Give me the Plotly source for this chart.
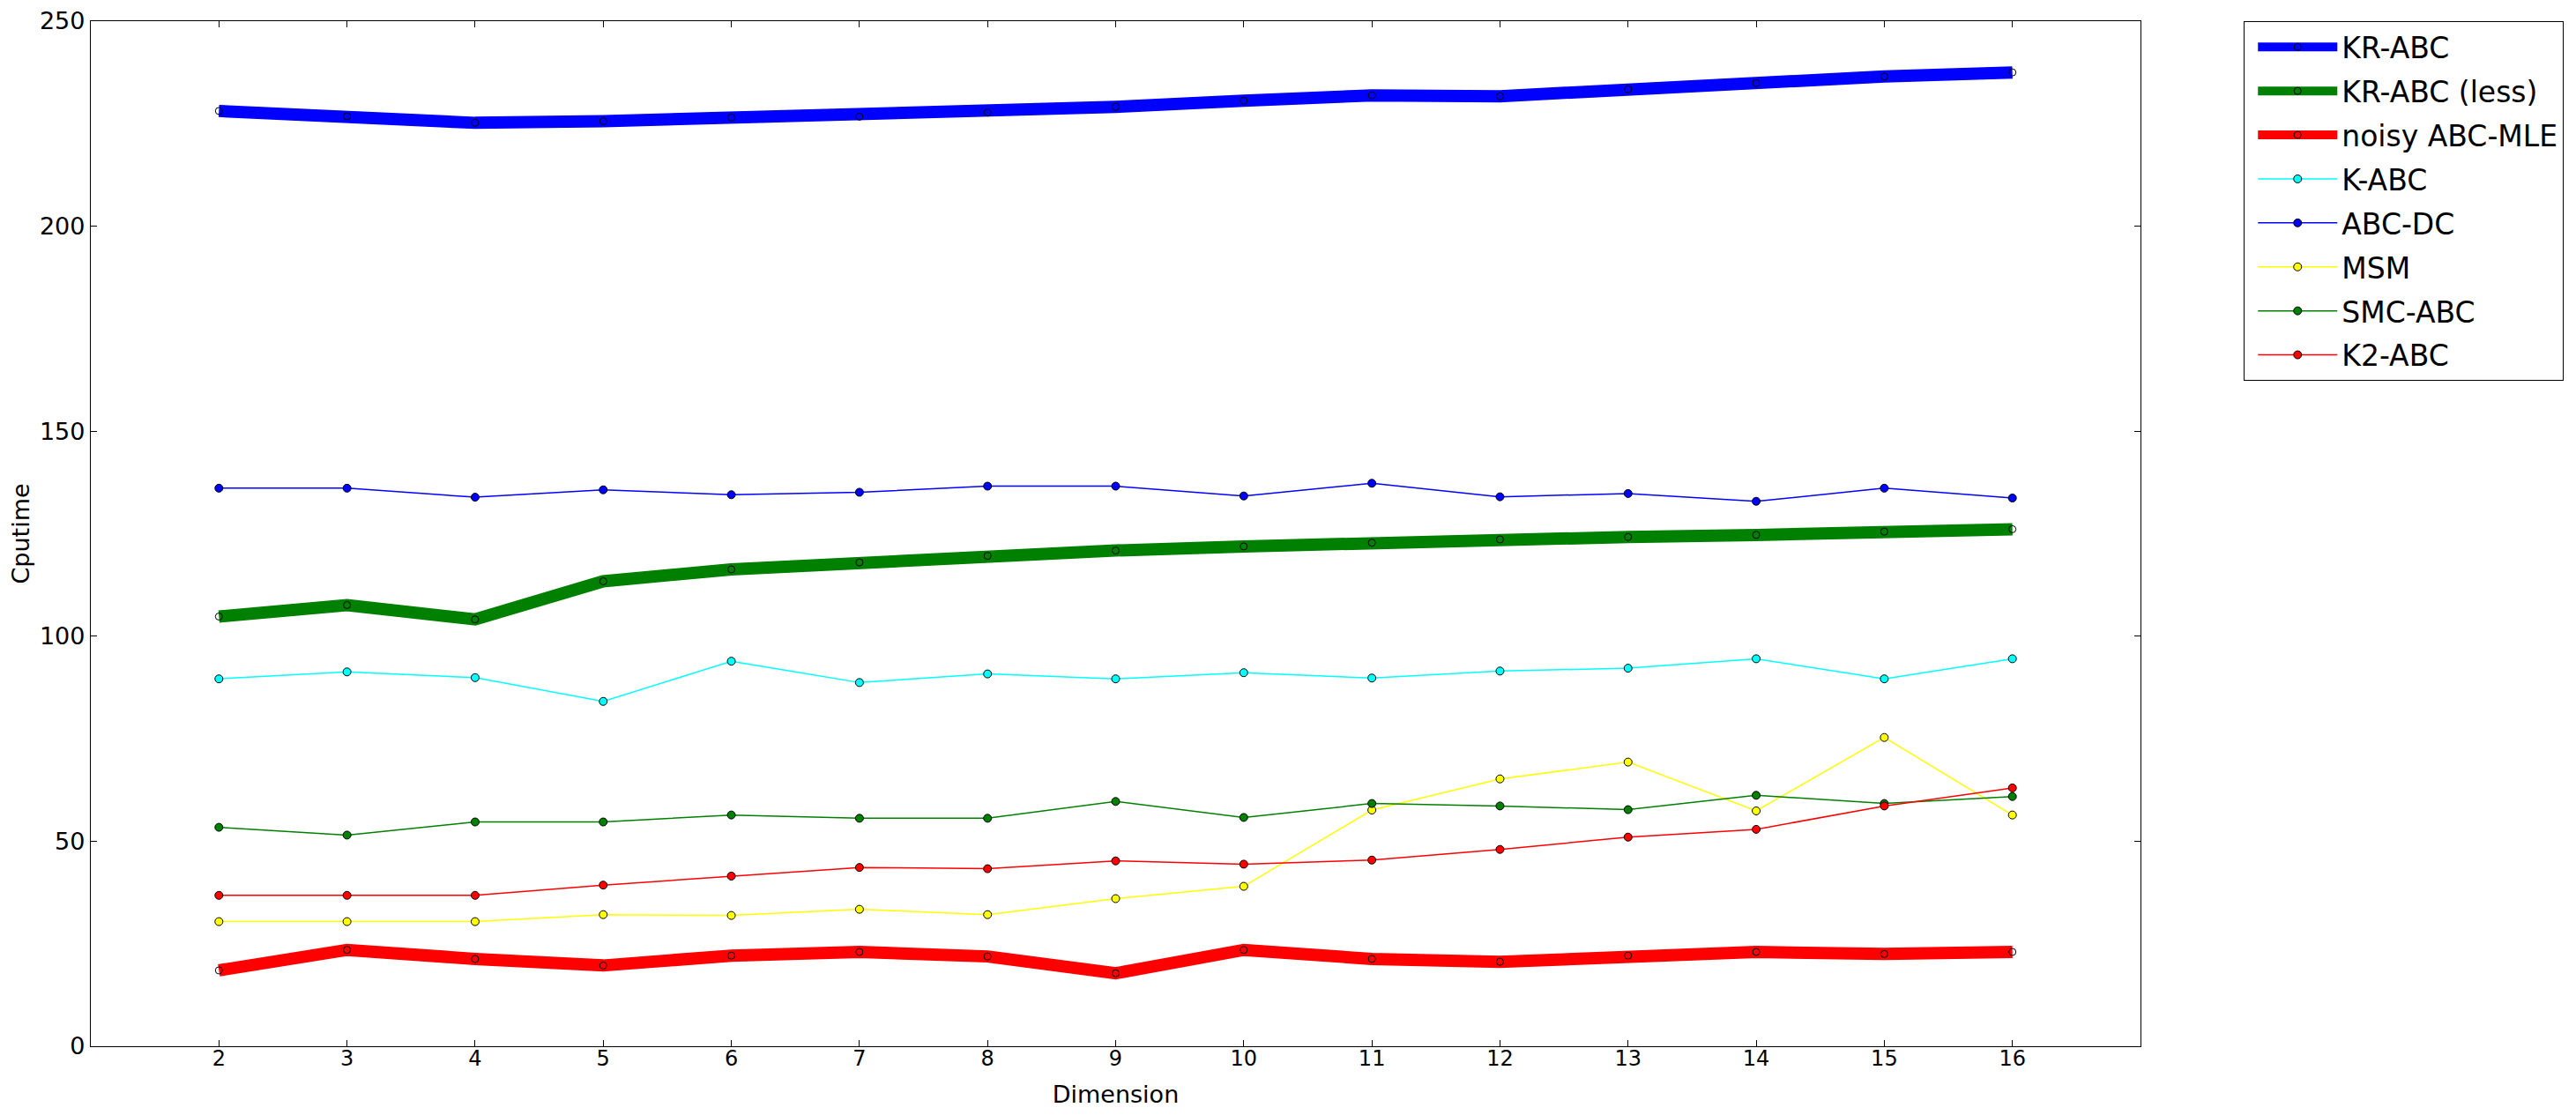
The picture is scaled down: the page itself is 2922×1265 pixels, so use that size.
import plotly.graph_objects as go

dimension = list(range(2, 17))

kr_abc = [228.1, 226.8, 225.2, 225.6, 226.5, 226.7, 227.7, 229.1, 230.6, 231.9, 231.7, 233.4, 234.9, 236.5, 237.5]
kr_abc_less = [104.8, 107.6, 104.1, 113.4, 116.3, 118.0, 119.6, 120.9, 121.9, 122.8, 123.6, 124.2, 124.7, 125.5, 126.1]
noisy_abc_mle = [18.5, 23.5, 21.3, 19.7, 22.1, 23.0, 21.9, 17.8, 23.5, 21.3, 20.6, 22.1, 23.0, 22.5, 23.0]
k_abc = [89.6, 91.3, 89.9, 84.1, 93.9, 88.7, 90.8, 89.6, 91.1, 89.8, 91.5, 92.2, 94.5, 89.6, 94.5]
abc_dc = [136.1, 136.1, 133.9, 135.7, 134.5, 135.1, 136.6, 136.6, 134.2, 137.3, 134.0, 134.8, 132.9, 136.1, 133.7]
msm = [30.4, 30.4, 30.4, 32.1, 31.9, 33.4, 32.1, 36.0, 39.0, 57.6, 65.2, 69.3, 57.4, 75.3, 56.4]
smc_abc = [53.4, 51.5, 54.7, 54.7, 56.4, 55.6, 55.6, 59.7, 55.8, 59.2, 58.6, 57.7, 61.2, 59.2, 60.9]
k2_abc = [36.8, 36.8, 36.8, 39.3, 41.5, 43.6, 43.3, 45.2, 44.4, 45.4, 48.0, 51.0, 52.9, 58.6, 63.0]

y_ticks = [0, 50, 100, 150, 200, 250]
x_ticks = dimension

thick_series = [
    ("KR-ABC", kr_abc, "#0000ff"),
    ("KR-ABC (less)", kr_abc_less, "#008000"),
    ("noisy ABC-MLE", noisy_abc_mle, "#ff0000"),
]
thin_series = [
    ("K-ABC", k_abc, "#00ffff"),
    ("ABC-DC", abc_dc, "#0000ff"),
    ("MSM", msm, "#ffff00"),
    ("SMC-ABC", smc_abc, "#008000"),
    ("K2-ABC", k2_abc, "#ff0000"),
]

fig = go.Figure()
for name, vals, col in thick_series:
    fig.add_trace(go.Scatter(
        x=dimension, y=vals, name=name, mode="lines+markers", legendgroup=name,
        line=dict(color=col, width=14),
        marker=dict(symbol="circle-open", size=8, color="black", line=dict(width=1, color="black")),
    ))
for name, vals, col in thin_series:
    fig.add_trace(go.Scatter(
        x=dimension, y=vals, name=name, mode="lines+markers", legendgroup=name,
        line=dict(color=col, width=1.5),
        marker=dict(symbol="circle", size=9, color=col, line=dict(width=1, color="black")),
    ))

font_family = "DejaVu Sans"
fig.update_layout(
    width=2914, height=1257,
    margin=dict(l=95, r=494, t=16, b=78, autoexpand=False),
    paper_bgcolor="white", plot_bgcolor="white",
    font=dict(family=font_family, color="black", size=26),
    showlegend=True,
    legend=dict(
        x=1.0503, y=1.0, xanchor="left", yanchor="top",
        bordercolor="black", borderwidth=1.3,
        font=dict(family=font_family, size=33, color="black"),
        itemwidth=90, indentation=10, tracegroupgap=4,
    ),
    xaxis=dict(
        range=[1, 17], tickmode="array", tickvals=x_ticks,
        ticks="inside", ticklen=7, tickwidth=1, tickcolor="black",
        showline=True, linecolor="black", linewidth=1.3, mirror="ticks",
        showgrid=False, zeroline=False, automargin=False,
        tickfont=dict(size=24), ticklabelstandoff=-8,
        title=dict(text="Dimension", font=dict(size=27), standoff=18),
    ),
    yaxis=dict(
        range=[0, 250], tickmode="array", tickvals=y_ticks,
        ticks="inside", ticklen=7, tickwidth=1, tickcolor="black",
        showline=True, linecolor="black", linewidth=1.3, mirror="ticks",
        showgrid=False, zeroline=False, automargin=True,
        tickfont=dict(size=27),
        title=dict(text="Cputime", font=dict(size=27), standoff=14),
    ),
)

fig.write_html("out.html")
